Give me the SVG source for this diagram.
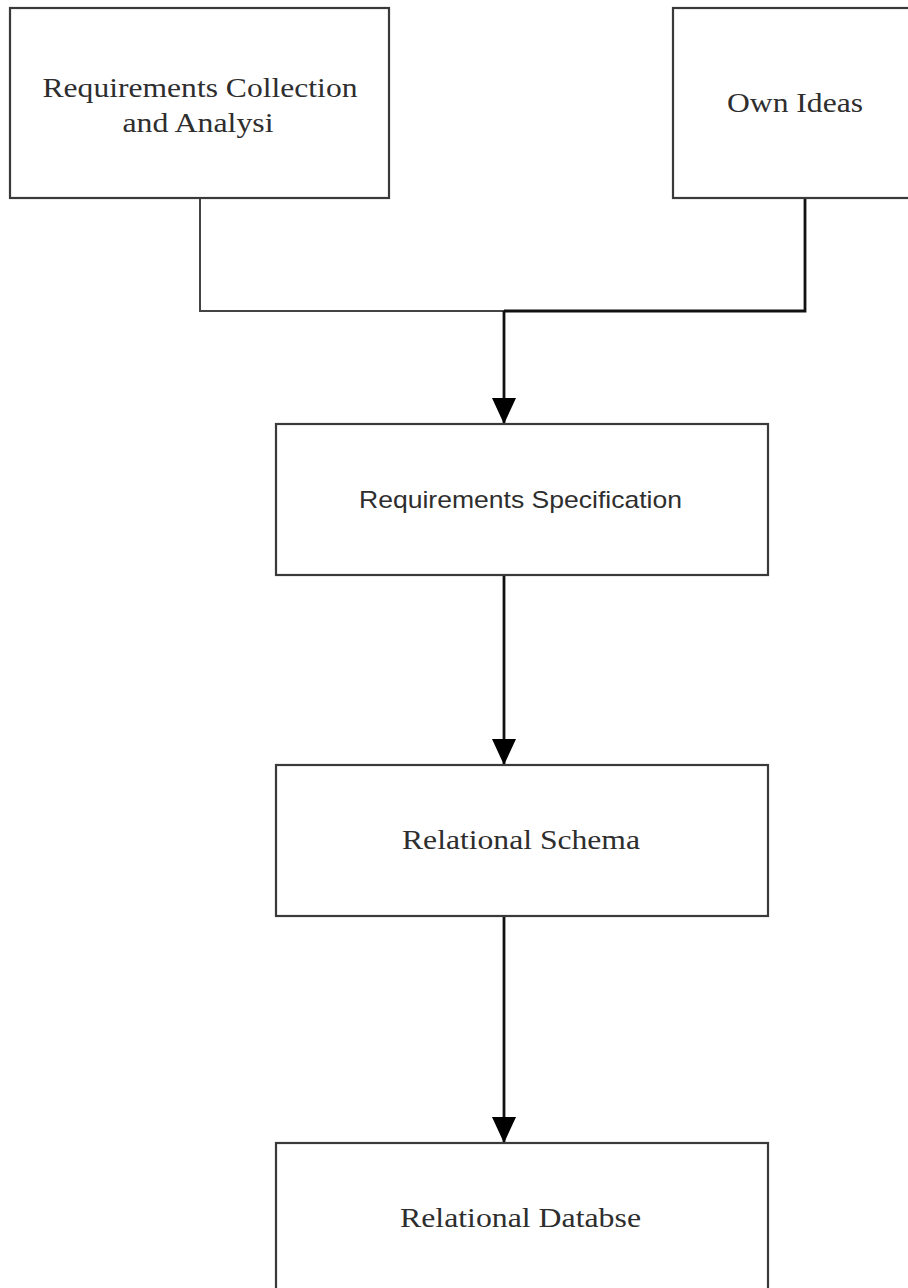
<svg xmlns="http://www.w3.org/2000/svg" width="908" height="1288" viewBox="0 0 908 1288">
<style>
.box{fill:#fff;stroke:#3a3a3a;stroke-width:2.2}
.serif{font-family:"Liberation Serif","Times New Roman",serif;font-size:28px;fill:#2e2e2e;text-anchor:middle}
.sans{font-family:"Liberation Sans",Arial,sans-serif;font-size:24px;fill:#2e2e2e;text-anchor:middle}
.conn{fill:none;stroke:#111;stroke-width:2.8}
.thin{fill:none;stroke:#444;stroke-width:2}
</style>
<defs>
<marker id="arrow" markerUnits="userSpaceOnUse" viewBox="0 0 26 24" markerWidth="26" markerHeight="24" refX="26" refY="12" orient="auto">
<path d="M0,0 L26,12 L0,24 z" fill="#000"/>
</marker>
</defs>
<rect width="908" height="1288" fill="#fff"/>
<g id="connectors">
<path class="thin" d="M200,198 V311 H504"/>
<path class="conn" d="M805,198 V311 H504"/>
<path class="conn" d="M504,311 V424" marker-end="url(#arrow)"/>
<path class="conn" d="M504,575 V765" marker-end="url(#arrow)"/>
<path class="conn" d="M504,916 V1143" marker-end="url(#arrow)"/>
</g>
<g id="node-req-collection">
<rect class="box" x="10" y="8" width="379" height="190"/>
<text class="serif" x="200" y="97" textLength="315" lengthAdjust="spacingAndGlyphs">Requirements Collection</text>
<text class="serif" x="198" y="132" textLength="151" lengthAdjust="spacingAndGlyphs">and Analysi</text>
</g>
<g id="node-own-ideas">
<rect class="box" x="673" y="8" width="245" height="190"/>
<text class="serif" x="795" y="112" textLength="136" lengthAdjust="spacingAndGlyphs">Own Ideas</text>
</g>
<g id="node-req-spec">
<rect class="box" x="276" y="424" width="492" height="151"/>
<text class="sans" x="520.5" y="508" textLength="323" lengthAdjust="spacingAndGlyphs">Requirements Specification</text>
</g>
<g id="node-rel-schema">
<rect class="box" x="276" y="765" width="492" height="151"/>
<text class="serif" x="521" y="849" textLength="238" lengthAdjust="spacingAndGlyphs">Relational Schema</text>
</g>
<g id="node-rel-db">
<rect class="box" x="276" y="1143" width="492" height="160"/>
<text class="serif" x="520.5" y="1227" textLength="241" lengthAdjust="spacingAndGlyphs">Relational Databse</text>
</g>
</svg>
